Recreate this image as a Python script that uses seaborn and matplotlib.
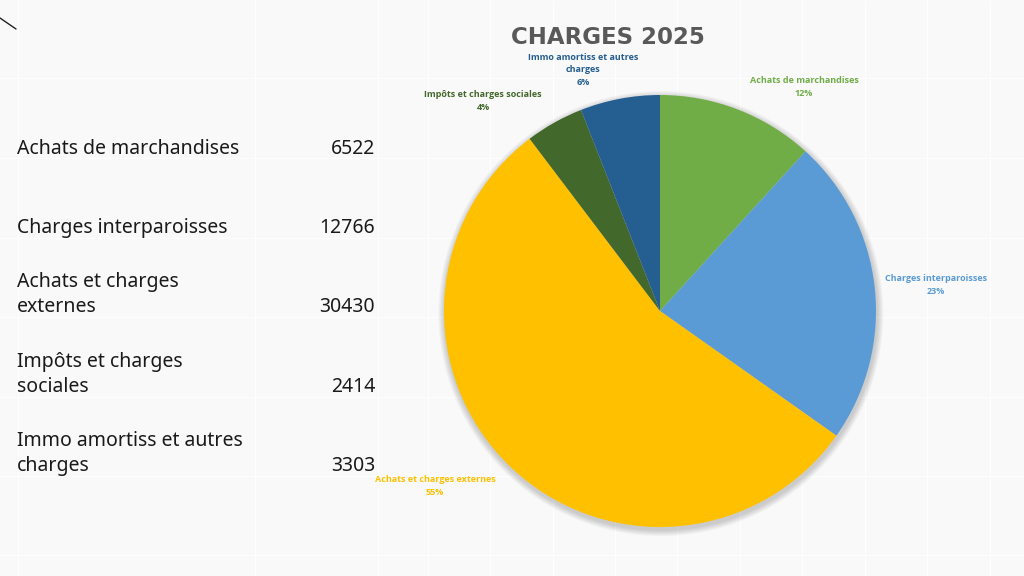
import textwrap
import matplotlib
matplotlib.use("Agg")
import matplotlib.pyplot as plt
import seaborn as sns
from matplotlib.patches import Circle

# ---- data ----
categories = ["Achats de marchandises", "Charges interparoisses",
              "Achats et charges externes", "Impôts et charges sociales",
              "Immo amortiss et autres charges"]
values = [6522, 12766, 30430, 2414, 3303]
title = "CHARGES 2025"

# ---- styles ----
slice_colors = ["#70AD47", "#5B9BD5", "#FFC000", "#43682B", "#255E91"]
bg_color = "#F9F9F9"
font = ["Noto Sans", "DejaVu Sans"]
bold_font = ["Open Sans", "DejaVu Sans"]

sns.set_theme(style="white")
plt.rcParams["font.family"] = font

W, H = 1024, 576
fig = plt.figure(figsize=(W / 100, H / 100), dpi=100)
fig.patch.set_facecolor(bg_color)

bg = fig.add_axes([0, 0, 1, 1])
bg.set_xlim(0, W)
bg.set_ylim(H, 0)
bg.axis("off")

# faint spreadsheet grid
grid_rows = [78, 158, 238, 317, 397, 476, 555]
grid_cols = [18, 255, 378, 428, 490, 553, 615, 677, 740, 802, 865, 927, 990]
for y in grid_rows:
    bg.axhline(y, color="#FEFEFE", lw=1.0, zorder=0)
for x in grid_cols:
    bg.axvline(x, color="#FEFEFE", lw=1.0, zorder=0)

# small stray line at top-left
bg.plot([0, 16], [18, 29], color="#222222", lw=1)

# title
bg.text(608, 38, title, ha="center", va="center", fontsize=16.5,
        fontweight="bold", color="#595959", family=["DejaVu Sans"])

# table on the left
row_bottoms = [159, 238, 317, 397, 476]
for cat, val, yb in zip(categories, values, row_bottoms):
    bg.text(17, yb, textwrap.fill(cat, 23), ha="left", va="bottom",
            fontsize=14, color="#1a1a1a", linespacing=1.3)
    bg.text(375, yb, f"{val}", ha="right", va="bottom",
            fontsize=14, color="#1a1a1a")

# pie
cx, cy, r = 660, 311, 216
pad = 1.05
pie_ax = fig.add_axes([(cx - r * pad) / W, (H - cy - r * pad) / H,
                       2 * r * pad / W, 2 * r * pad / H])
pie_ax.patch.set_alpha(0)

# soft shadow
for k in range(6):
    pie_ax.add_patch(Circle((0.004, -0.012), 1.0 + 0.005 * (6 - k),
                            color="#000000", alpha=0.03, lw=0, zorder=0))

pie_ax.pie(values, colors=slice_colors, startangle=90, counterclock=False,
           radius=1.0, wedgeprops=dict(linewidth=0), frame=False)
pie_ax.set_xlim(-pad, pad)
pie_ax.set_ylim(-pad, pad)
pie_ax.set_aspect("equal")
pie_ax.axis("off")

# data labels
total = sum(values)
label_pos = [(804, 87), (936, 285), (435, 486), (483, 101), (583, 70)]
for cat, val, col, (lx, ly) in zip(categories, values, slice_colors, label_pos):
    txt = textwrap.fill(cat, 26) + f"\n{round(100 * val / total)}%"
    bg.text(lx, ly, txt, ha="center", va="center", fontsize=6.5,
            fontweight="bold", color=col, linespacing=1.45, family=bold_font)

fig.savefig("out.png", dpi=100, facecolor=fig.get_facecolor())
